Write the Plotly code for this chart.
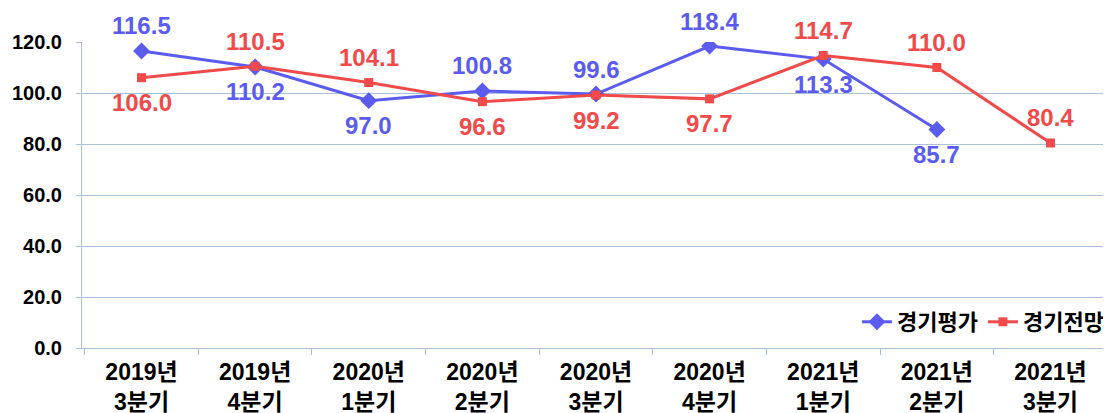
import plotly.graph_objects as go

quarters = ['2019년<br>3분기', '2019년<br>4분기', '2020년<br>1분기', '2020년<br>2분기', '2020년<br>3분기',
            '2020년<br>4분기', '2021년<br>1분기', '2021년<br>2분기', '2021년<br>3분기']
evaluation = [116.5, 110.2, 97.0, 100.8, 99.6, 118.4, 113.3, 85.7, None]
outlook = [106.0, 110.5, 104.1, 96.6, 99.2, 97.7, 114.7, 110.0, 80.4]

# label placement: 1 = above the point, -1 = below
eval_side = [1, -1, -1, 1, 1, 1, -1, -1, 0]
outlook_side = [-1, 1, 1, -1, -1, -1, 1, 1, 1]

BLUE = '#5B5BF0'
RED = '#F04A4A'
GRID = '#A9C1D9'
FONT = 'Liberation Sans, Arial, Noto Sans CJK KR'

fig = go.Figure()

fig.add_trace(go.Scatter(
    x=quarters, y=evaluation, mode='lines+markers', name='경기평가',
    line=dict(color=BLUE, width=3),
    marker=dict(symbol='diamond', size=13, color=BLUE)
))
fig.add_trace(go.Scatter(
    x=quarters, y=outlook, mode='lines+markers', name='경기전망',
    line=dict(color=RED, width=3),
    marker=dict(symbol='square', size=9, color=RED)
))

# data labels
for values, sides, color in [(evaluation, eval_side, BLUE), (outlook, outlook_side, RED)]:
    for q, v, s in zip(quarters, values, sides):
        if v is None:
            continue
        fig.add_annotation(
            x=q, y=v, text=f'{v:.1f}', showarrow=False, yshift=25 * s,
            font=dict(family=FONT, size=24, color=color, weight='bold')
        )

# the page body adds an 8px offset, so the figure is sized to fit inside it
fig.update_layout(
    width=1103, height=405,
    margin=dict(l=74, r=1, t=34, b=65),
    plot_bgcolor='white', paper_bgcolor='white',
    font=dict(family=FONT, size=20, color='black', weight='bold'),
    showlegend=True,
    legend=dict(orientation='h', x=0.999, xanchor='right', y=0.085, yanchor='middle',
                bgcolor='rgba(0,0,0,0)', font=dict(size=22, weight='bold'),
                itemwidth=30, tracegroupgap=0),
    xaxis=dict(
        type='category', tickson='boundaries', ticks='outside', ticklen=6, tickcolor=GRID,
        showline=True, linecolor=GRID, showgrid=False, ticklabelstandoff=3, automargin=False,
        tickfont=dict(size=23, weight='bold')
    ),
    yaxis=dict(
        range=[0, 120], dtick=20, tickformat='.1f', ticks='outside', ticklen=5, tickcolor=GRID,
        showline=True, linecolor=GRID, gridcolor=GRID, gridwidth=1, zeroline=False,
        ticklabelstandoff=10, automargin=False, tickfont=dict(size=20, weight='bold')
    ),
)

fig.write_html('out.html')
